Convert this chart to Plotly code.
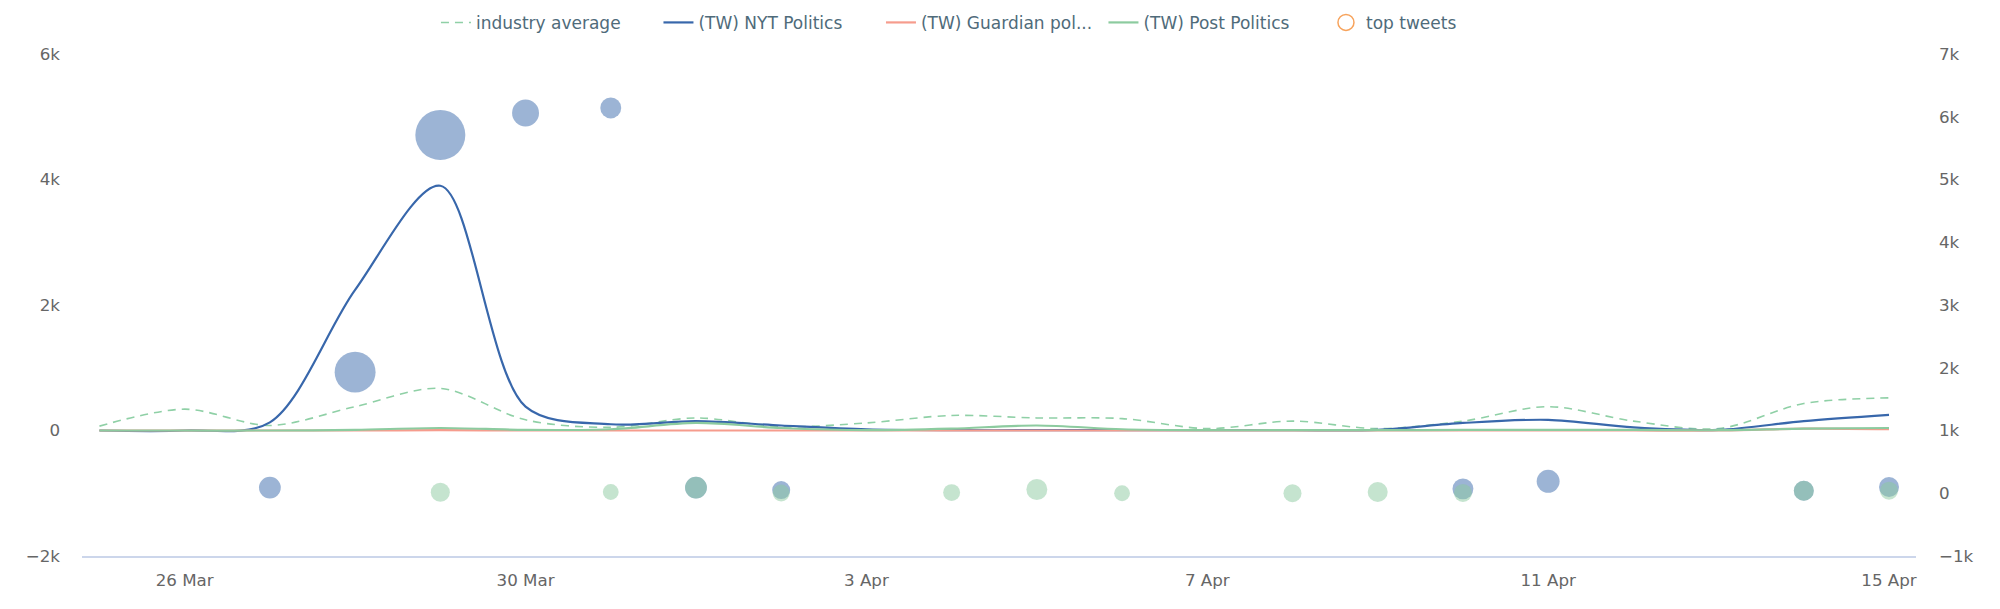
import plotly.graph_objects as go

# ---- data ----
dates = ["2019-03-25", "2019-03-26", "2019-03-27", "2019-03-28", "2019-03-29", "2019-03-30",
         "2019-03-31", "2019-04-01", "2019-04-02", "2019-04-03", "2019-04-04", "2019-04-05",
         "2019-04-06", "2019-04-07", "2019-04-08", "2019-04-09", "2019-04-10", "2019-04-11",
         "2019-04-12", "2019-04-13", "2019-04-14", "2019-04-15"]

industry_average = [70, 340, 80, 380, 670, 170, 50, 200, 60, 120, 240, 200,
                    190, 30, 150, 30, 150, 380, 150, 30, 430, 520]
nyt_politics = [0, 0, 130, 2240, 3900, 380, 100, 150, 80, 20, 5, 5,
                5, 5, 5, 10, 120, 170, 50, 10, 150, 250]
guardian_politics = [0, 0, 0, 0, 5, 0, 0, 0, 0, 0, 0, 0,
                     0, 0, 0, 0, 0, 0, 0, 0, 30, 20]
post_politics = [0, 0, 0, 10, 40, 10, 20, 120, 40, 5, 30, 80,
                 20, 5, 5, 5, 10, 10, 10, 5, 30, 40]

# top tweets (right axis): NYT
nyt_tweet_dates = ["2019-03-27", "2019-03-28", "2019-03-29", "2019-03-30", "2019-03-31",
                   "2019-04-01", "2019-04-02", "2019-04-10", "2019-04-11", "2019-04-14", "2019-04-15"]
nyt_tweet_values = [90, 1930, 5710, 6060, 6140, 90, 50, 70, 190, 40, 100]
nyt_tweet_engagement = [1900, 6700, 10000, 2900, 1750, 1900, 1300, 1750, 2100, 1600, 1600]

# top tweets (right axis): Post
post_tweet_dates = ["2019-03-29", "2019-03-31", "2019-04-01", "2019-04-02", "2019-04-04", "2019-04-05",
                    "2019-04-06", "2019-04-08", "2019-04-09", "2019-04-10", "2019-04-14", "2019-04-15"]
post_tweet_values = [15, 20, 90, 5, 10, 60, 0, 0, 20, 5, 40, 40]
post_tweet_engagement = [1450, 1000, 1900, 1150, 1150, 1750, 1000, 1300, 1600, 1300, 1600, 1300]

left_ticks = [-2000, 0, 2000, 4000, 6000]
right_ticks = [-1000, 0, 1000, 2000, 3000, 4000, 5000, 6000, 7000]
x_ticks = ["2019-03-26", "2019-03-30", "2019-04-03", "2019-04-07", "2019-04-11", "2019-04-15"]
x_tick_labels = ["26 Mar", "30 Mar", "3 Apr", "7 Apr", "11 Apr", "15 Apr"]


def k_label(v):
    if v == 0:
        return "0"
    s = f"{abs(v) // 1000}k"
    return ("−" + s) if v < 0 else s


FONT = "DejaVu Sans"
C_AVG = "#8fd0a6"
C_NYT = "#3867ab"
C_GUA = "#f69c8d"
C_POST = "#8ccb9f"

fig = go.Figure()

fig.add_trace(go.Scatter(x=dates, y=industry_average, name="industry average", mode="lines",
                         line=dict(color=C_AVG, width=1.6, dash="8px,6px", shape="spline", smoothing=0.9)))
fig.add_trace(go.Scatter(x=dates, y=nyt_politics, name="(TW) NYT Politics", mode="lines",
                         line=dict(color=C_NYT, width=2.2, shape="spline", smoothing=0.9)))
fig.add_trace(go.Scatter(x=dates, y=guardian_politics, name="(TW) Guardian pol...", mode="lines",
                         line=dict(color=C_GUA, width=2.2, shape="spline", smoothing=0.9)))
fig.add_trace(go.Scatter(x=dates, y=post_politics, name="(TW) Post Politics", mode="lines",
                         line=dict(color=C_POST, width=2.2, shape="spline", smoothing=0.9)))

fig.add_trace(go.Scatter(x=nyt_tweet_dates, y=nyt_tweet_values, yaxis="y2", mode="markers",
                         showlegend=False, name="top tweets",
                         marker=dict(size=nyt_tweet_engagement, sizemode="area", sizeref=8,
                                     opacity=1, color="rgba(58,105,172,0.5)", line=dict(width=0))))
fig.add_trace(go.Scatter(x=post_tweet_dates, y=post_tweet_values, yaxis="y2", mode="markers",
                         showlegend=False, name="top tweets",
                         marker=dict(size=post_tweet_engagement, sizemode="area", sizeref=8,
                                     opacity=1, color="rgba(140,202,160,0.5)", line=dict(width=0))))
# legend entry for the bubble series
fig.add_trace(go.Scatter(x=[None], y=[None], yaxis="y2", mode="markers", name="top tweets",
                         marker=dict(symbol="circle-open", size=16, color="#f7a35c",
                                     line=dict(width=1.5, color="#f7a35c"))))

fig.update_layout(
    width=1992, height=601,
    margin=dict(l=74, r=84, t=46, b=53, autoexpand=False),
    paper_bgcolor="white", plot_bgcolor="white",
    font=dict(family=FONT, size=16.7, color="#666666"),
    showlegend=True,
    legend=dict(orientation="h", x=0.193, xanchor="left", y=1.062, yanchor="middle",
                font=dict(family=FONT, size=17, color="#4f6b7a"),
                entrywidth=177.5, itemwidth=30, bgcolor="rgba(0,0,0,0)"),
    xaxis=dict(type="date", range=["2019-03-24 19:05", "2019-04-15 07:36"],
               tickvals=x_ticks, ticktext=x_tick_labels, showgrid=False, zeroline=False,
               showline=True, linecolor="#ccd6eb", linewidth=1.5, ticks="",
               ticklabelstandoff=8, tickfont=dict(size=16.7, color="#666666")),
    yaxis=dict(range=[-2000, 6000], tickvals=left_ticks, ticktext=[k_label(v) for v in left_ticks],
               showgrid=False, zeroline=False, showline=False, ticks="",
               ticklabelstandoff=21, tickfont=dict(size=16.7, color="#666666")),
    yaxis2=dict(range=[-1000, 7000], tickvals=right_ticks, ticktext=[k_label(v) for v in right_ticks],
                overlaying="y", side="right", showgrid=False, zeroline=False, showline=False,
                ticks="", ticklabelstandoff=22, tickfont=dict(size=16.7, color="#666666")),
)

fig.write_html("out.html")
